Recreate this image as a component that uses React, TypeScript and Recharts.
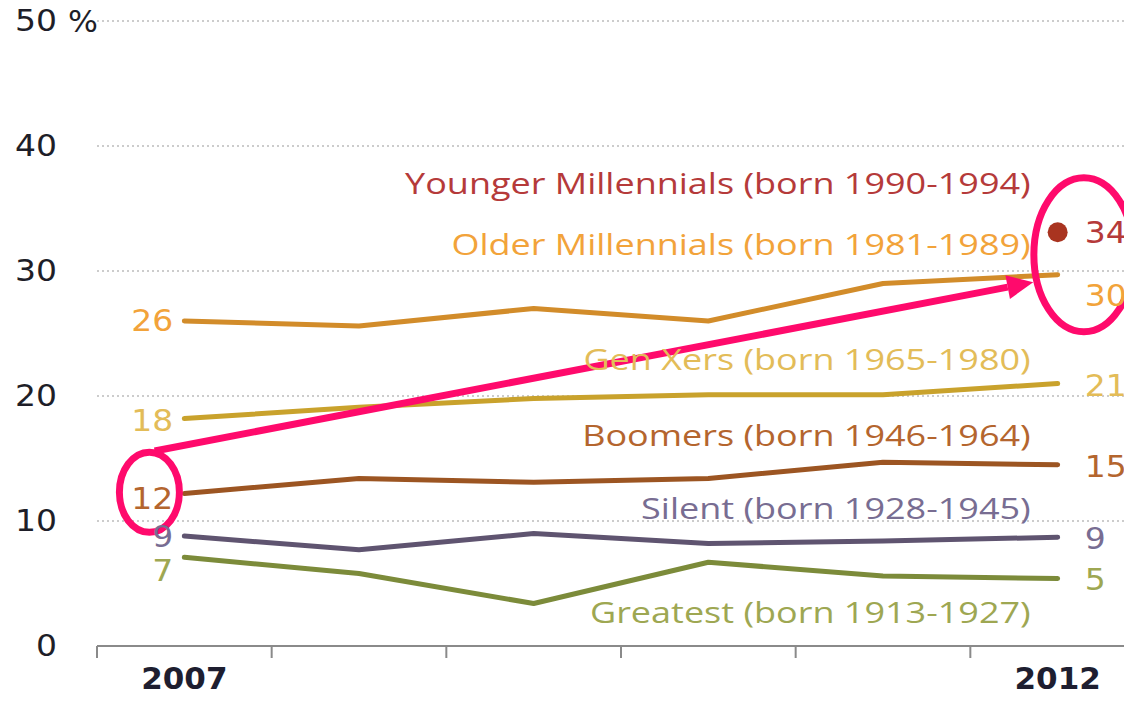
import React from "react";
import {
  LineChart,
  Line,
  XAxis,
  YAxis,
  CartesianGrid,
  LabelList,
  ReferenceDot,
  ReferenceLine,
} from "recharts";

// ---------- data ----------
const years = [2007, 2008, 2009, 2010, 2011, 2012];
const youngerMillennials: (number | null)[] = [null, null, null, null, null, 33.1];
const olderMillennials = [26, 25.6, 27, 26, 29, 29.7];
const genXers = [18.2, 19.1, 19.8, 20.1, 20.1, 21];
const boomers = [12.2, 13.4, 13.1, 13.4, 14.7, 14.5];
const silent = [8.8, 7.7, 9.0, 8.2, 8.4, 8.7];
const greatest = [7.1, 5.8, 3.4, 6.7, 5.6, 5.4];

const seriesNames = [
  "Younger Millennials (born 1990-1994)",
  "Older Millennials (born 1981-1989)",
  "Gen Xers (born 1965-1980)",
  "Boomers (born 1946-1964)",
  "Silent (born 1928-1945)",
  "Greatest (born 1913-1927)",
];
const startLabels = ["", "26", "18", "12", "9", "7"];
const endLabels = ["34", "30", "21", "15", "9", "5"];

const yTicks = [0, 10, 20, 30, 40, 50];
const xLabelTicks = [2007, 2012];

// ---------- build table ----------
const keys = ["younger", "older", "genx", "boomers", "silent", "greatest"];
const seriesValues = [youngerMillennials, olderMillennials, genXers, boomers, silent, greatest];
const data = years.map((year, i) => {
  const row: any = { year };
  keys.forEach((k, s) => {
    row[k] = seriesValues[s][i];
  });
  return row;
});
const boundaryTicks = [...years.map((y) => y - 0.5), years[years.length - 1] + 0.5];
const xDomain = [boundaryTicks[0], boundaryTicks[boundaryTicks.length - 1]];

// ---------- styles ----------
const styles = [
  { line: "#A93420", text: "#B53A3A", nameDy: -50, endDy: 0, startDy: 0 },
  { line: "#D28C2A", text: "#F2A33A", nameDy: -31, endDy: 21, startDy: 0 },
  { line: "#C9A22C", text: "#E3BC58", nameDy: -25, endDy: 2, startDy: 2 },
  { line: "#9C5522", text: "#B4652E", nameDy: -30, endDy: 2, startDy: 5 },
  { line: "#5F5470", text: "#786D92", nameDy: -30, endDy: 1, startDy: 1 },
  { line: "#7C8B3A", text: "#9EA752", nameDy: 33, endDy: 1, startDy: 13 },
];
const NUM_FONT = "'DejaVu Sans', Verdana, sans-serif";
const NAME_FONT = "'Open Sans', 'Noto Sans', sans-serif";
const PINK = "#FF0A6C";
const NAME_STRETCH = 1.2;
const NUM_STRETCH = 1.1;

const StretchText = ({ x, y, anchor, fill, size, family, stretch, weight, children }: any) => (
  <g transform={`translate(${x},${y}) scale(${stretch},1)`}>
    <text
      x={0}
      y={0}
      textAnchor={anchor}
      dominantBaseline="central"
      fill={fill}
      fontSize={size}
      fontFamily={family}
      fontWeight={weight || "normal"}
    >
      {children}
    </text>
  </g>
);

const makeLabelContent = (s: number) => (props: any) => {
  const { x, y, index, value } = props;
  if (value == null || x == null || y == null) return null;
  const st = styles[s];
  const last = years.length - 1;
  if (index === 0 && startLabels[s]) {
    return (
      <StretchText x={x - 11} y={y + st.startDy} anchor="end" fill={st.text} size={30} family={NUM_FONT} stretch={NUM_STRETCH}>
        {startLabels[s]}
      </StretchText>
    );
  }
  if (index === last) {
    return (
      <g>
        <StretchText x={x + 27} y={y + st.endDy} anchor="start" fill={st.text} size={30} family={NUM_FONT} stretch={NUM_STRETCH}>
          {endLabels[s]}
        </StretchText>
        <StretchText x={x - 27} y={y + st.nameDy} anchor="end" fill={st.text} size={30} family={NAME_FONT} stretch={NAME_STRETCH}>
          {seriesNames[s]}
        </StretchText>
      </g>
    );
  }
  return null;
};

const YTick = (props: any) => {
  const { x, y, payload } = props;
  return (
    <g>
      <StretchText x={x} y={y} anchor="end" fill="#1e1e28" size={30} family={NUM_FONT} stretch={NUM_STRETCH}>
        {payload.value}
      </StretchText>
      {payload.value === 50 && (
        <StretchText x={x + 11} y={y} anchor="start" fill="#1e1e28" size={30} family={NUM_FONT} stretch={1.05}>
          %
        </StretchText>
      )}
    </g>
  );
};

const XTick = (props: any) => {
  const { x, y, payload } = props;
  return (
    <StretchText x={x} y={y} anchor="middle" fill="#1e1e30" size={31} family={NUM_FONT} stretch={1.0} weight="bold">
      {payload.value}
    </StretchText>
  );
};

const EmptyTick = () => <g />;

const YoungerDot = (props: any) => {
  const { cx, cy, value, index } = props;
  if (value == null || cx == null || cy == null) return <g key={`yd-${index}`} />;
  return <circle key={`yd-${index}`} cx={cx} cy={cy} r={10} fill={styles[0].line} />;
};

const Ellipse = (rx: number, ry: number) => (props: any) => {
  const { cx, cy } = props;
  return <ellipse cx={cx} cy={cy} rx={rx} ry={ry} fill="none" stroke={PINK} strokeWidth={7} />;
};

const Arrow = (props: any) => {
  const { x1, y1, x2, y2 } = props;
  if ([x1, y1, x2, y2].some((v) => v == null)) return null;
  const dx = x2 - x1;
  const dy = y2 - y1;
  const len = Math.sqrt(dx * dx + dy * dy);
  const ux = dx / len;
  const uy = dy / len;
  const headLen = 26;
  const headW = 12;
  const bx = x2 - ux * headLen;
  const by = y2 - uy * headLen;
  const pts = `${x2},${y2} ${bx - uy * headW},${by + ux * headW} ${bx + uy * headW},${by - ux * headW}`;
  return (
    <g>
      <line x1={x1} y1={y1} x2={bx} y2={by} stroke={PINK} strokeWidth={7} />
      <polygon points={pts} fill={PINK} />
    </g>
  );
};

export default function App() {
  return (
    <div style={{ margin: -8, width: 1132, height: 703, overflow: "hidden", background: "#fff" }}>
      <LineChart width={1150} height={703} data={data} margin={{ top: 21, right: 5, bottom: 0, left: 0 }}>
        <CartesianGrid
          xAxisId="a-main"
          horizontal
          vertical={false}
          stroke="#9a9a9a"
          strokeDasharray="2 3"
          strokeWidth={1.2}
        />
        <XAxis
          xAxisId="a-main"
          type="number"
          dataKey="year"
          domain={xDomain}
          ticks={boundaryTicks}
          interval={0}
          tick={<EmptyTick />}
          tickSize={12}
          height={12}
          axisLine={{ stroke: "#8a8a8a", strokeWidth: 2 }}
          tickLine={{ stroke: "#8a8a8a", strokeWidth: 2 }}
        />
        <XAxis
          xAxisId="b-label"
          type="number"
          dataKey="year"
          domain={xDomain}
          ticks={xLabelTicks}
          interval={0}
          axisLine={false}
          tickLine={false}
          tickSize={0}
          tickMargin={20}
          height={45}
          tick={<XTick />}
        />
        <YAxis
          type="number"
          domain={[0, 50]}
          ticks={yTicks}
          interval={0}
          width={97}
          axisLine={false}
          tickLine={false}
          tickSize={0}
          tickMargin={40}
          tick={<YTick />}
        />
        {keys.slice(1).map((k, i) => (
          <Line
            key={k}
            xAxisId="a-main"
            type="linear"
            dataKey={k}
            stroke={styles[i + 1].line}
            strokeWidth={5}
            strokeLinejoin="round"
            strokeLinecap="round"
            dot={false}
            activeDot={false}
            isAnimationActive={false}
          >
            <LabelList dataKey={k} content={makeLabelContent(i + 1)} />
          </Line>
        ))}
        <Line
          xAxisId="a-main"
          type="linear"
          dataKey="younger"
          stroke="none"
          dot={<YoungerDot />}
          activeDot={false}
          isAnimationActive={false}
        >
          <LabelList dataKey="younger" content={makeLabelContent(0)} />
        </Line>
        <ReferenceDot xAxisId="a-main" x={2006.8} y={12.3} r={1} ifOverflow="visible" shape={Ellipse(30, 40)} />
        <ReferenceDot xAxisId="a-main" x={2012.15} y={31.3} r={1} ifOverflow="visible" shape={Ellipse(50, 77)} />
        <ReferenceLine
          xAxisId="a-main"
          segment={[
            { x: 2006.83, y: 15.6 },
            { x: 2011.86, y: 29.1 },
          ]}
          ifOverflow="visible"
          shape={Arrow}
        />
      </LineChart>
    </div>
  );
}
